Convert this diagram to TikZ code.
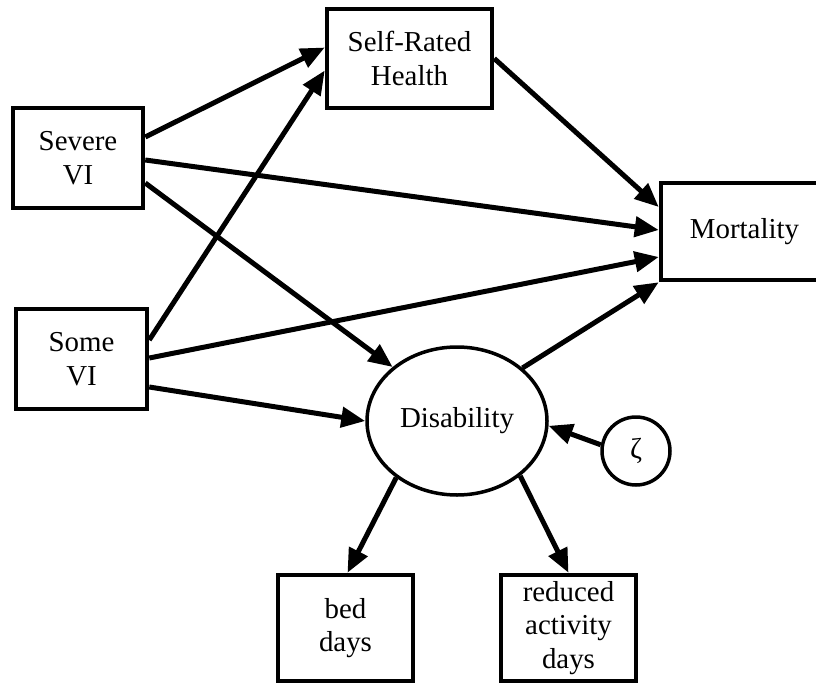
\documentclass[tikz,border=0pt]{standalone}
\usepackage{fontspec}
\setmainfont{Liberation Serif}
\usetikzlibrary{arrows.meta,shapes.geometric}
\begin{document}
\begin{tikzpicture}[x=1bp,y=-1bp,
  lbl/.style={font=\fontsize{29}{33.5}\selectfont, align=center, inner sep=0pt},
  box/.style={lbl, draw, line width=4.5bp, rectangle},
  latent/.style={lbl, draw, line width=3.5bp, ellipse},
  link/.style={line width=5bp, -{Triangle[length=24bp,width=20bp]}},
]
\useasboundingbox (0,0) rectangle (816,686);

% observed variables
\node[box, minimum width=165bp, minimum height=99bp]  (srh)  at (409.5,58.5) {Self-Rated\\Health};
\node[box, minimum width=130bp, minimum height=100bp] (sev)  at (78,158)     {Severe\\VI};
\node[box, minimum width=131bp, minimum height=100bp] (some) at (81.5,359)   {Some\\VI};
\node[box, minimum width=185bp, minimum height=97bp]  (mort) at (753.5,231.5) {\hspace*{-18bp}Mortality};
\node[box, minimum width=135bp, minimum height=106bp] (bed)  at (345.5,628)  {bed\\days};
\node[box, minimum width=135bp, minimum height=106bp] (red)  at (568.5,628)  {reduced\\activity\\days};

% latent variable and its disturbance
\node[latent, minimum width=180bp, minimum height=148bp] (dis) at (457,421) {Disability};
\node[latent, circle, minimum size=68bp] (zeta) at (636,451) {ζ};

% paths
\draw[link] ([yshift=21bp]sev.east)   -- ([yshift=11bp]srh.west);
\draw[link] ([yshift=19bp]some.east)  -- ([yshift=-12bp]srh.west);
\draw[link] ([yshift=-2bp]sev.east)   -- ([yshift=1.5bp]mort.west);
\draw[link] ([yshift=-25bp]sev.east)  -- (dis.140);
\draw[link] ([yshift=1bp]some.east)   -- ([yshift=-25.5bp]mort.west);
\draw[link] ([yshift=-28bp]some.east) -- (dis.west);
\draw[link] (srh.east)                -- ([yshift=24.5bp]mort.west);
\draw[link] (dis.39)                  -- (mort.south west);
\draw[link] (zeta.170)                -- (dis.-3);
\draw[link] (dis.-137)                -- ([xshift=2bp]bed.north);
\draw[link] (dis.-41)                 -- (red.north);
\end{tikzpicture}
\end{document}
